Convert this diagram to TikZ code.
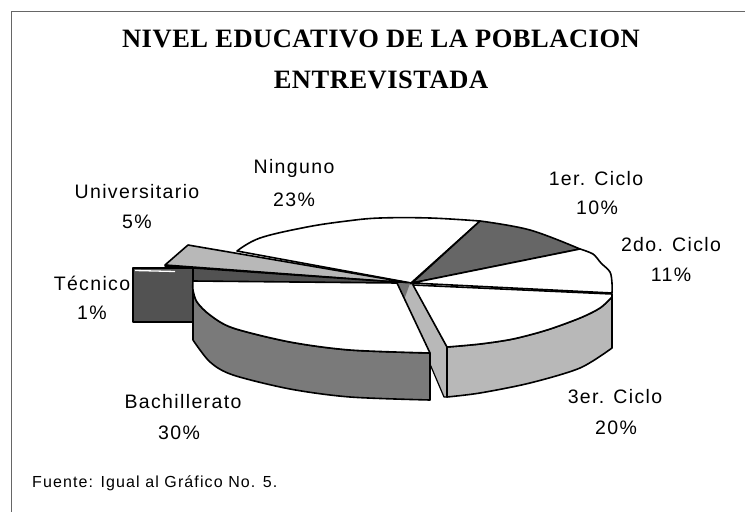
\documentclass[tikz,border=0pt]{standalone}
\usepackage{fontspec}
\setmainfont{Liberation Serif}
\newfontfamily\labfont{Liberation Sans}[LetterSpace=7]
\newfontfamily\titlefont{Liberation Serif}[LetterSpace=2]
\begin{document}
\begin{tikzpicture}[x=1pt,y=-1pt,
  outl/.style={draw=black,line width=1.6pt,line join=round},
  whiteface/.style={outl,fill=white},
  lightface/.style={outl,fill=black!28},
  midface/.style={outl,fill=black!52},
  darkface/.style={outl,fill=black!60},
  darkerface/.style={outl,fill=black!68},
  lab/.style={font=\labfont\fontsize{19.5}{22}\selectfont,align=center,inner sep=0pt},
  ttl/.style={font=\titlefont\bfseries\fontsize{26.5}{30}\selectfont,inner sep=0pt},
  frameline/.style={draw=black!60,line width=0.8pt}]
\useasboundingbox (0,0) rectangle (745,512);
\fill[white] (0,0) rectangle (745,512);
% frame
\coordinate (ftl) at (11,11);
\coordinate (ftr) at (745,11);
\coordinate (fbl) at (11,512);
\draw[frameline] (ftr) -- (ftl) -- (fbl);
% title
\node[ttl] (t1) at (381,39) {NIVEL EDUCATIVO DE LA POBLACION};
\node[ttl] (t2) at (381,80) {ENTREVISTADA};
% Ninguno top face
\filldraw[whiteface] (411,283) -- (237,251) -- plot[smooth,tension=0.6] coordinates {(237,251) (260,238) (307,227) (347,221) (380,218) (430,218) (480,221)} -- cycle;
% 1er ciclo
\filldraw[darkface] (412,283) -- (480,221) -- plot[smooth,tension=0.6] coordinates {(480,221) (530,230) (580,249)} -- cycle;
% 2do ciclo
\filldraw[whiteface] (412,283) -- (580,249) -- plot[smooth,tension=0.5] coordinates {(580,249) (593,254) (601,263) (610,272) (612,283) (612,293)} -- cycle;
% Universitario
\filldraw[lightface] (165,265) -- (188,245) -- (410,283) -- cycle;
\filldraw[darkerface] (165,266) -- (410,283) -- (193,282) -- (193,272) -- cycle;
% Tecnico
\filldraw[darkerface] (133,268) rectangle (193,322);
\draw[white,line width=1.3pt] (135,270.5) -- (175,271.5);
% cut strip
\filldraw[lightface,line width=1.2pt] (395,282) -- (413,284) -- (447,347) -- (447,397) -- (444,397) -- cycle;
\fill[black!55] (396,283) -- (410,283.5) -- (404,300) -- cycle;
% 3er ciclo side and top
\filldraw[lightface] plot[smooth,tension=0.5] coordinates {(447,347) (480,344) (513,339) (547,330) (580,318) (600,308) (612,297)} -- (612,348) -- plot[smooth,tension=0.5] coordinates {(612,348) (580,368) (530,383) (480,393) (447,397)} -- cycle;
\filldraw[whiteface] (413,285) -- (612,294) -- plot[smooth,tension=0.5] coordinates {(612,297) (600,308) (580,318) (547,330) (513,339) (480,344) (447,347)} -- cycle;
% Bachillerato side and top
\filldraw[midface] plot[smooth,tension=0.5] coordinates {(193,290) (197,302) (210,315) (233,328) (290,342) (350,350) (430,353)} -- (430,400) -- plot[smooth,tension=0.5] coordinates {(430,400) (350,397) (290,389) (233,375) (210,362) (193,340)} -- cycle;
\filldraw[whiteface] (397,283) -- (193,281) -- plot[smooth,tension=0.5] coordinates {(193,281) (193,290) (197,302) (210,315) (233,328) (290,342) (350,350) (430,353)} -- cycle;
% labels
\node[lab] (ning) at (294,168) {Ninguno};
\node[lab] (ningp) at (294,200) {23\%};
\node[lab] (univ) at (137,192) {Universitario};
\node[lab] (univp) at (137,222) {5\%};
\node[lab] (c1) at (596,179) {1er. Ciclo};
\node[lab] (c1p) at (597,208) {10\%};
\node[lab] (c2) at (671,245) {2do. Ciclo};
\node[lab] (c2p) at (671,275) {11\%};
\node[lab] (tec) at (92,283) {Técnico};
\node[lab] (tecp) at (92,313) {1\%};
\node[lab] (bach) at (183,402) {Bachillerato};
\node[lab] (bachp) at (179,433) {30\%};
\node[lab] (c3) at (615,397) {3er. Ciclo};
\node[lab] (c3p) at (616,428) {20\%};
\node[lab,font=\labfont\fontsize{16}{19}\selectfont,anchor=west] (src) at (32,483) {Fuente: Igual al Gráfico No. 5.};
\end{tikzpicture}
\end{document}
